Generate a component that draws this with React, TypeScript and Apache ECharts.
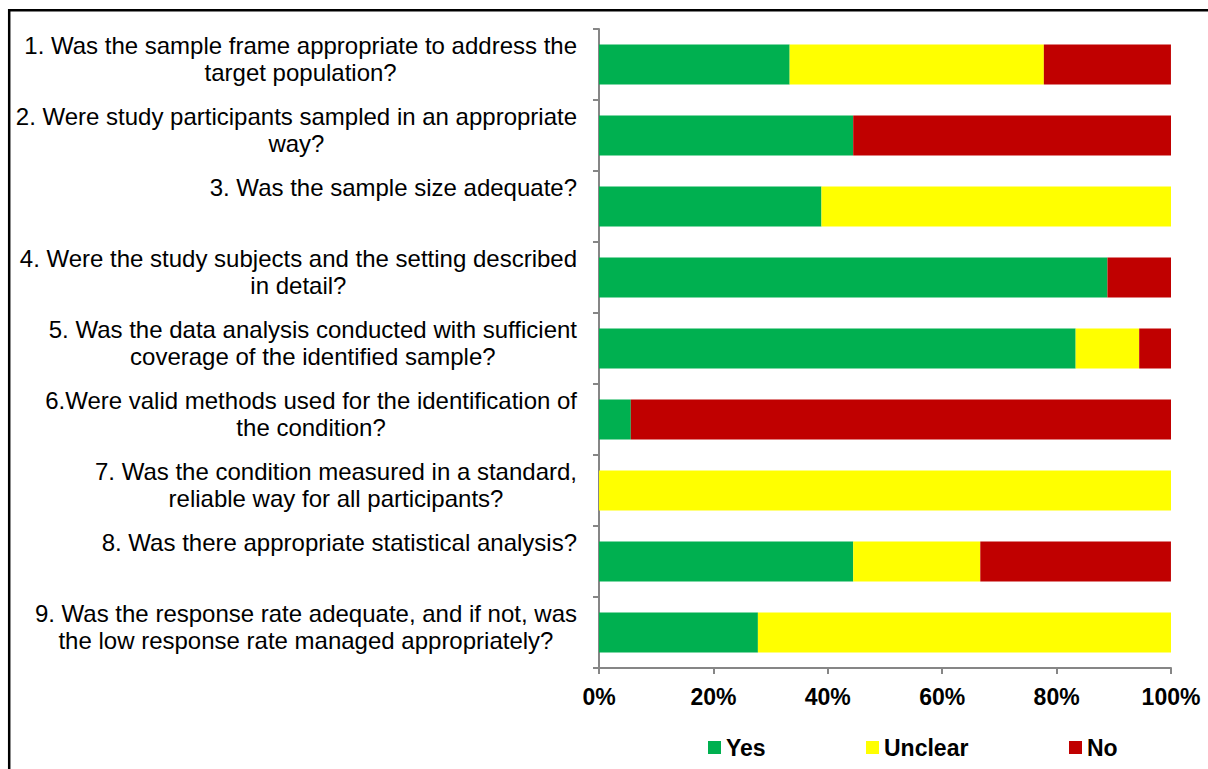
import React, { useEffect, useRef } from "react";
import * as echarts from "echarts";

// Appraisal questions (category axis, top to bottom)
const questions: string[] = [
  "1. Was the sample frame appropriate to address the\ntarget population?",
  "2. Were study participants sampled in an appropriate\nway?",
  "3. Was the sample size adequate?",
  "4. Were the study subjects and the setting described\nin detail?",
  "5. Was the data analysis conducted with sufficient\ncoverage of the identified sample?",
  "6.Were valid methods used for the identification of\nthe condition?",
  "7. Was the condition measured in a standard,\nreliable way for all participants?",
  "8. Was there appropriate statistical analysis?",
  "9. Was the response rate adequate, and if not, was\nthe low response rate managed appropriately?",
];

// Share of studies per answer (%)
const yesPct: number[] = [33.33, 44.44, 38.89, 88.89, 83.33, 5.56, 0, 44.44, 27.78];
const unclearPct: number[] = [44.44, 0, 61.11, 0, 11.11, 0, 100, 22.22, 72.22];
const noPct: number[] = [22.22, 55.56, 0, 11.11, 5.56, 94.44, 0, 33.33, 0];

const seriesNames: string[] = ["Yes", "Unclear", "No"];
const seriesColors: string[] = ["#00B050", "#FFFF00", "#C00000"];

const FONT = "Arial, 'Liberation Sans', Helvetica, sans-serif";
const AXIS_GRAY = "#868686";

export default function App() {
  const ref = useRef<HTMLDivElement>(null);

  useEffect(() => {
    if (!ref.current) return;
    const chart = echarts.init(ref.current, null, { renderer: "svg" });

    const seriesData = [yesPct, unclearPct, noPct];
    const legendLefts = [703, 861, 1064];

    const option: any = {
      animation: false,
      backgroundColor: "#ffffff",
      grid: { left: 599, right: 37, top: 29, bottom: 101, containLabel: false },
      legend: seriesNames.map((name, i) => ({
        data: [name],
        left: legendLefts[i],
        top: 731,
        icon: "rect",
        itemWidth: 13,
        itemHeight: 13,
        itemGap: 0,
        selectedMode: false,
        textStyle: { fontFamily: FONT, fontSize: 23, fontWeight: "bold", color: "#000" },
      })),
      xAxis: {
        type: "value",
        min: 0,
        max: 100,
        interval: 20,
        axisLine: { show: true, lineStyle: { color: AXIS_GRAY, width: 2 } },
        axisTick: { show: true, length: 6, lineStyle: { color: AXIS_GRAY, width: 2 } },
        splitLine: { show: false },
        axisLabel: {
          formatter: "{value}%",
          margin: 17,
          fontFamily: FONT,
          fontSize: 23,
          fontWeight: "bold",
          color: "#000",
        },
      },
      yAxis: {
        type: "category",
        inverse: true,
        data: questions,
        axisLine: { show: true, lineStyle: { color: AXIS_GRAY, width: 2 } },
        axisTick: { show: true, length: 6, lineStyle: { color: AXIS_GRAY, width: 2 } },
        axisLabel: {
          margin: 22,
          padding: [0, 0, 12, 0],
          formatter: (value: string) => {
            const lines = value.split("\n");
            if (lines.length === 1) return `{one|${lines[0]}}`;
            return lines.map((l) => `{c|${l}}`).join("\n");
          },
          rich: {
            c: {
              align: "center",
              fontFamily: FONT,
              fontSize: 24,
              lineHeight: 27,
              color: "#000",
            },
            one: {
              align: "center",
              fontFamily: FONT,
              fontSize: 24,
              color: "#000",
              padding: [0, 0, 27, 0],
            },
          },
        },
      },
      series: seriesNames.map((name, i) => ({
        name,
        type: "bar",
        stack: "total",
        barWidth: 40,
        itemStyle: { color: seriesColors[i] },
        data: seriesData[i],
      })),
      graphic: [
        {
          type: "rect",
          shape: { x: 9.2, y: 10.2, width: 1400, height: 1000 },
          style: { fill: "none", stroke: "#000", lineWidth: 2.5 },
          silent: true,
        },
      ],
    };

    chart.setOption(option);
    return () => chart.dispose();
  }, []);

  return (
    <div
      ref={ref}
      style={{ position: "absolute", left: 0, top: 0, width: 1208, height: 769 }}
    />
  );
}
